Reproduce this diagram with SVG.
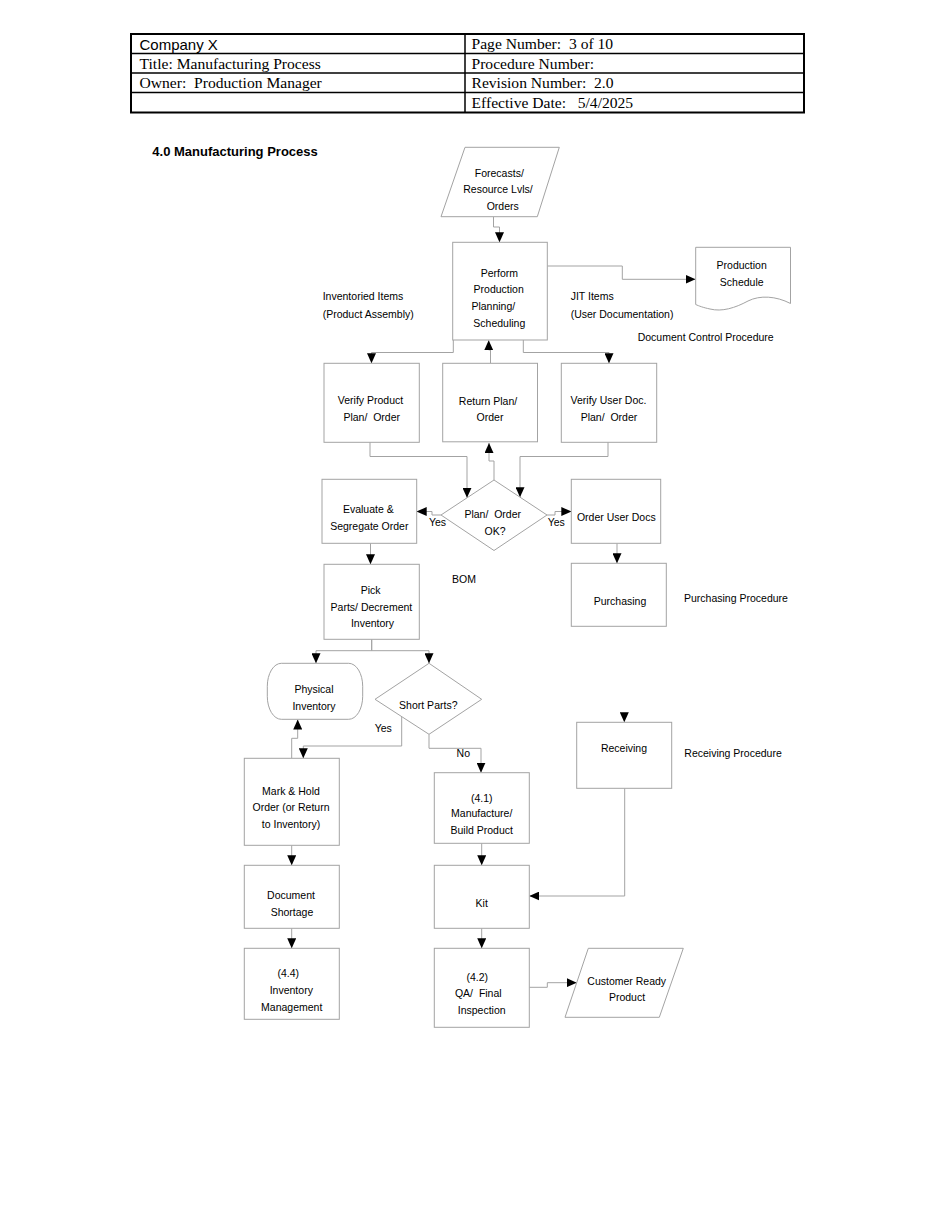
<svg xmlns="http://www.w3.org/2000/svg" width="950" height="1230" viewBox="0 0 950 1230">
<defs>
<style>
.box{fill:#fff;stroke:#a3a3a3;stroke-width:1}
.ln{fill:none;stroke:#a3a3a3;stroke-width:1;marker-end:url(#ah)}
.t{font-family:"Liberation Sans",Arial,sans-serif;font-size:10.5px;fill:#000;text-anchor:middle}
.tl{font-family:"Liberation Sans",Arial,sans-serif;font-size:10.5px;fill:#000;text-anchor:start}
.hs{font-family:"Liberation Sans",Arial,sans-serif;font-size:15px;fill:#000;white-space:pre}
.hr{font-family:"Liberation Serif","Times New Roman",serif;font-size:15.6px;fill:#000;white-space:pre}
.pre{white-space:pre}
</style>
<marker id="ah" markerWidth="10" markerHeight="9" refX="10" refY="4.5" orient="auto" markerUnits="userSpaceOnUse">
<path d="M0,0 L10,4.5 L0,9 Z" fill="#000"/>
</marker>
</defs>
<rect width="950" height="1230" fill="#fff"/>

<g id="header">
<rect x="131" y="34" width="673" height="78.5" fill="none" stroke="#000" stroke-width="2"/>
<line x1="131" y1="53.5" x2="804" y2="53.5" stroke="#000" stroke-width="1.5"/>
<line x1="131" y1="73" x2="804" y2="73" stroke="#000" stroke-width="1.5"/>
<line x1="131" y1="92.5" x2="804" y2="92.5" stroke="#000" stroke-width="1.5"/>
<line x1="465" y1="34" x2="465" y2="112.5" stroke="#000" stroke-width="1.5"/>
<text class="hs" x="139.5" y="49.5">Company X</text>
<text class="hr" x="139.5" y="68.8">Title: Manufacturing Process</text>
<text class="hr" x="139.5" y="88.2">Owner:  Production Manager</text>
<text class="hr" x="471.5" y="49.3">Page Number:  3 of 10</text>
<text class="hr" x="471.5" y="68.8">Procedure Number:</text>
<text class="hr" x="471.5" y="88.2">Revision Number:  2.0</text>
<text class="hr" x="471.5" y="107.6">Effective Date:   5/4/2025</text>
</g>

<text x="152.3" y="155.7" font-family="Liberation Sans, Arial, sans-serif" font-size="13" font-weight="bold" fill="#000">4.0 Manufacturing Process</text>

<g id="connectors">
<path class="ln" d="M493.5,216.7 V227 H499.5 V242.3"/>
<path class="ln" d="M547.3,266 H622.3 V279.3 H695.5"/>
<path class="ln" d="M453.3,340 V352.5 H371.5 V363.3"/>
<path class="ln" d="M523.3,340 V352.5 H609 V363.3"/>
<path class="ln" d="M490.5,363.3 V350 H488.7 V340.3"/>
<path class="ln" d="M370,442 V456.5 H467 V497.8"/>
<path class="ln" d="M608,442 V456.5 H520 V497.2"/>
<path class="ln" d="M494,480 V461 H489 V443"/>
<path class="ln" d="M441,515 H432 V511.5 H416.7"/>
<path class="ln" d="M547,515 H555 V511.5 H571.3"/>
<path class="ln" d="M370.5,543.3 V564.3"/>
<path class="ln" d="M617,543.3 V563.3"/>
<path class="ln" d="M371.7,639.3 V650.7 H316 V663.3"/>
<path class="ln" d="M371.7,639.3 V650.7 H429 V663.3"/>
<path class="ln" d="M401.7,716.6 V746 H303.3 V758.3"/>
<path class="ln" d="M291.7,758.3 V738.3 H297.7 V719.5"/>
<path class="ln" d="M429,734.3 V748.3 H481 V772.7"/>
<path class="ln" d="M481.7,843.3 V865.3"/>
<path class="ln" d="M624.7,788.3 V896 H529.3"/>
<path class="ln" d="M481.7,928.3 V948.3"/>
<path class="ln" d="M529.3,987.3 H547.3 V982.7 H576.7"/>
<path class="ln" d="M291.7,845.3 V865.3"/>
<path class="ln" d="M291.7,928.3 V948.3"/>
<path class="ln" style="stroke:none" d="M624.3,712 V722.3"/>
<text class="t" x="437.5" y="525.5">Yes</text>
<text class="t" x="556.3" y="525.5">Yes</text>
<text class="t" x="383.3" y="732.1">Yes</text>
<text class="t" x="463.3" y="756.5">No</text>
</g>

<g id="forecasts">
<polygon class="box" points="465,147.3 559.3,147.3 537.3,216.7 441,216.7"/>
<text class="t" x="499.3" y="177.1">Forecasts/</text>
<text class="t" x="498" y="193.1">Resource Lvls/</text>
<text class="t" x="502.7" y="209.8">Orders</text>
</g>

<g id="perform">
<rect class="box" x="452.7" y="242.3" width="94.6" height="97.7"/>
<text class="t" x="499.3" y="276.5">Perform</text>
<text class="t" x="498.7" y="293.1">Production</text>
<text class="t" x="493.3" y="309.8">Planning/</text>
<text class="t" x="499.3" y="326.5">Scheduling</text>
</g>

<g id="schedule">
<path class="box" d="M695.7,247.3 H790.5 V303.5 C776,296 760,295 748,301 C735,308 722,312 710,309 C703,307.5 699,306 695.7,304.5 Z"/>
<text class="t" x="741.7" y="268.8">Production</text>
<text class="t" x="741.7" y="285.5">Schedule</text>
</g>

<g id="notes">
<text class="tl" x="322.7" y="299.8">Inventoried Items</text>
<text class="tl" x="322.7" y="317.8">(Product Assembly)</text>
<text class="tl" x="570.7" y="299.8">JIT Items</text>
<text class="tl" x="570.7" y="317.8">(User Documentation)</text>
<text class="tl" x="637.7" y="340.5">Document Control Procedure</text>
<text class="tl" x="452" y="582.8">BOM</text>
<text class="tl" x="684" y="602.1">Purchasing Procedure</text>
<text class="tl" x="684.3" y="756.5">Receiving Procedure</text>
</g>

<g id="verify-product">
<rect class="box" x="324" y="363.3" width="95.3" height="79"/>
<text class="t" x="370.5" y="404">Verify Product</text>
<text class="t pre" x="371.7" y="420.6">Plan/  Order</text>
</g>

<g id="return-plan">
<rect class="box" x="442.7" y="363.3" width="94.8" height="78.5"/>
<text class="t" x="488" y="404.5">Return Plan/</text>
<text class="t" x="490" y="421.2">Order</text>
</g>

<g id="verify-user-doc">
<rect class="box" x="561.3" y="363.3" width="95.4" height="79"/>
<text class="t" x="608.5" y="404">Verify User Doc.</text>
<text class="t pre" x="609" y="420.6">Plan/  Order</text>
</g>

<g id="plan-ok">
<polygon class="box" points="494,480 547,515 494,550.5 441,515"/>
<text class="t pre" x="492.7" y="517.8">Plan/  Order</text>
<text class="t" x="495" y="534.5">OK?</text>
</g>

<g id="evaluate">
<rect class="box" x="322" y="479.3" width="94.7" height="64"/>
<text class="t" x="368.3" y="513.1">Evaluate &amp;</text>
<text class="t" x="369.3" y="529.5">Segregate Order</text>
</g>

<g id="order-user-docs">
<rect class="box" x="571.3" y="479.3" width="89.4" height="64"/>
<text class="t" x="616.3" y="521.1">Order User Docs</text>
</g>

<g id="pick">
<rect class="box" x="324" y="564.3" width="95.3" height="75"/>
<text class="t" x="370.7" y="593.8">Pick</text>
<text class="t" x="371.4" y="610.5">Parts/ Decrement</text>
<text class="t" x="372.5" y="627.1">Inventory</text>
</g>

<g id="purchasing">
<rect class="box" x="571.3" y="563.3" width="95" height="63"/>
<text class="t" x="620" y="604.5">Purchasing</text>
</g>

<g id="physical-inventory">
<rect class="box" x="267.3" y="663.3" width="95.4" height="56" rx="14" ry="23"/>
<text class="t" x="314" y="693.1">Physical</text>
<text class="t" x="314" y="709.5">Inventory</text>
</g>

<g id="short-parts">
<polygon class="box" points="429,663.3 481.7,699.3 429,734.3 375,699.3"/>
<text class="t" x="428.3" y="708.8">Short Parts?</text>
</g>

<g id="receiving">
<rect class="box" x="576.7" y="722.3" width="95" height="66"/>
<text class="t" x="624" y="752.1">Receiving</text>
</g>

<g id="mark-hold">
<rect class="box" x="244.3" y="758.3" width="95" height="87"/>
<text class="t" x="291" y="794.8">Mark &amp; Hold</text>
<text class="t" x="291" y="811.1">Order (or Return</text>
<text class="t" x="291" y="827.8">to Inventory)</text>
</g>

<g id="manufacture">
<rect class="box" x="434.3" y="772.7" width="95" height="70.6"/>
<text class="t" x="481.7" y="801.5">(4.1)</text>
<text class="t" x="481.7" y="817.1">Manufacture/</text>
<text class="t" x="481.7" y="833.8">Build Product</text>
</g>

<g id="document-shortage">
<rect class="box" x="244.3" y="865.3" width="95" height="63"/>
<text class="t" x="291" y="898.8">Document</text>
<text class="t" x="292" y="915.5">Shortage</text>
</g>

<g id="kit">
<rect class="box" x="434.3" y="865.3" width="95" height="63"/>
<text class="t" x="481.7" y="906.5">Kit</text>
</g>

<g id="inventory-management">
<rect class="box" x="244.3" y="948.3" width="95" height="71"/>
<text class="t" x="288.3" y="977.1">(4.4)</text>
<text class="t" x="291.3" y="993.8">Inventory</text>
<text class="t" x="291.7" y="1010.5">Management</text>
</g>

<g id="qa">
<rect class="box" x="434.3" y="948.3" width="95" height="79"/>
<text class="t" x="477.3" y="980.5">(4.2)</text>
<text class="t pre" x="478.3" y="997.1">QA/  Final</text>
<text class="t" x="481.7" y="1013.8">Inspection</text>
</g>

<g id="customer-ready">
<polygon class="box" points="588.3,948.3 683.3,948.3 659.3,1017.3 565,1017.3"/>
<text class="t" x="626.7" y="984.5">Customer Ready</text>
<text class="t" x="627" y="1001.1">Product</text>
</g>
</svg>
